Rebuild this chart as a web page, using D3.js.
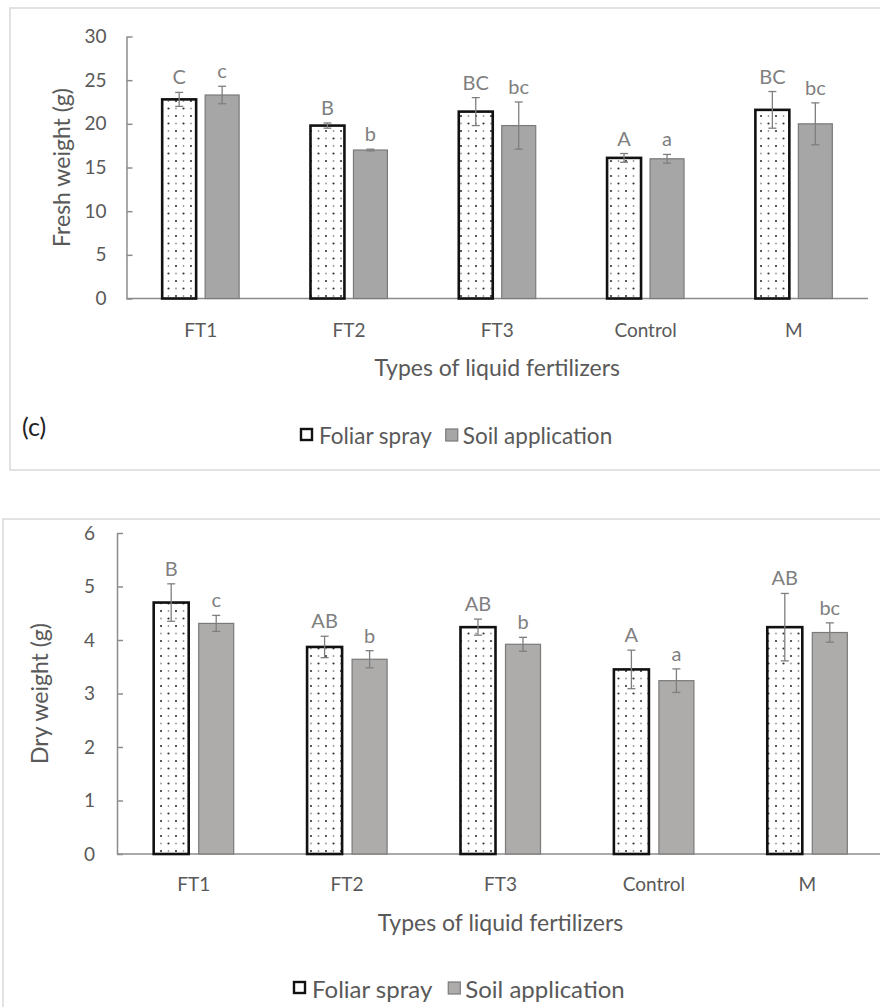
<!DOCTYPE html>
<html>
<head>
<meta charset="utf-8">
<script src="https://cdn.jsdelivr.net/npm/d3@7/dist/d3.min.js"></script>
<style>
  html, body { margin: 0; padding: 0; background: #fff; }
  svg { display: block; }
  text { font-family: Lato, "Open Sans", sans-serif; }
</style>
</head>
<body>
<script>
// ---------- DATA ----------
const categories = ["FT1", "FT2", "FT3", "Control", "M"];
const seriesNames = ["Foliar spray", "Soil application"];

const freshFoliar    = [22.8, 19.8, 21.4, 16.1, 21.6];
const freshFoliarErr = [0.8, 0.3, 1.6, 0.5, 2.1];
const freshSoil      = [23.3, 17.0, 19.8, 16.0, 20.0];
const freshSoilErr   = [1.0, 0.1, 2.7, 0.5, 2.4];
const freshFoliarLetters = ["C", "B", "BC", "A", "BC"];
const freshSoilLetters   = ["c", "b", "bc", "a", "bc"];
const freshTicks = [0, 5, 10, 15, 20, 25, 30];

const dryFoliar    = [4.70, 3.87, 4.24, 3.45, 4.24];
const dryFoliarErr = [0.35, 0.20, 0.15, 0.36, 0.63];
const drySoil      = [4.31, 3.64, 3.92, 3.24, 4.14];
const drySoilErr   = [0.15, 0.16, 0.13, 0.22, 0.18];
const dryFoliarLetters = ["B", "AB", "AB", "A", "AB"];
const drySoilLetters   = ["c", "b", "b", "a", "bc"];
const dryTicks = [0, 1, 2, 3, 4, 5, 6];

const xTitle = "Types of liquid fertilizers";

// ---------- SVG ----------
const W = 880, H = 1007;
const svg = d3.select("body").append("svg").attr("width", W).attr("height", H);
svg.append("rect").attr("width", W).attr("height", H).attr("fill", "#fff");

const defs = svg.append("defs");
const pat = defs.append("pattern").attr("id", "dots")
  .attr("patternUnits", "userSpaceOnUse").attr("width", 15).attr("height", 15);
pat.append("rect").attr("width", 15).attr("height", 15).attr("fill", "#fff");
[[3.5, 3.5, "#333", 1.1], [11, 11, "#333", 1.1], [11, 3.5, "#999", 0.9], [3.5, 11, "#999", 0.9]].forEach(([cx, cy, c, r]) =>
  pat.append("circle").attr("cx", cx).attr("cy", cy).attr("r", r).attr("fill", c));

function drawChart(cfg) {
  const g = svg.append("g");
  // panel border
  g.append("rect").attr("x", cfg.panel[0]).attr("y", cfg.panel[1])
    .attr("width", cfg.panel[2]).attr("height", cfg.panel[3])
    .attr("fill", "none").attr("stroke", "#d9d9d9").attr("stroke-width", 1.5);

  const x = d3.scaleBand().domain(categories).range([cfg.left, cfg.right]);
  const xs = d3.scaleBand().domain(seriesNames).range([0, x.bandwidth()])
    .paddingInner(cfg.pin).paddingOuter(cfg.pout);
  const y = d3.scaleLinear().domain([0, d3.max(cfg.ticks)]).range([cfg.y0, cfg.yTop]);

  const rows = categories.map((c, i) => ([
    { c, s: seriesNames[0], v: cfg.foliar[i], e: cfg.foliarErr[i], L: cfg.foliarL[i] },
    { c, s: seriesNames[1], v: cfg.soil[i], e: cfg.soilErr[i], L: cfg.soilL[i] }
  ])).flat();

  // x axis line
  g.append("line").attr("x1", cfg.left).attr("x2", cfg.right)
    .attr("y1", y(0)).attr("y2", y(0)).attr("stroke", "#8c8c8c").attr("stroke-width", 1.5);

  g.selectAll("rect.bar").data(rows).join("rect").attr("class", "bar")
    .attr("x", d => x(d.c) + xs(d.s))
    .attr("y", d => y(d.v))
    .attr("width", xs.bandwidth())
    .attr("height", d => y(0) - y(d.v))
    .attr("fill", d => d.s === seriesNames[0] ? "url(#dots)" : cfg.soilFill)
    .attr("stroke", d => d.s === seriesNames[0] ? "#111" : "#7a7a7a")
    .attr("stroke-width", d => d.s === seriesNames[0] ? 2.6 : 1.2);

  // error bars
  const eb = g.selectAll("g.err").data(rows).join("g").attr("class", "err")
    .attr("stroke", "#7f7f7f").attr("stroke-width", 1.3);
  const cx = d => x(d.c) + xs(d.s) + xs.bandwidth() / 2;
  eb.append("line").attr("x1", cx).attr("x2", cx)
    .attr("y1", d => y(d.v + d.e)).attr("y2", d => y(d.v - d.e));
  eb.append("line").attr("x1", d => cx(d) - 4).attr("x2", d => cx(d) + 4)
    .attr("y1", d => y(d.v + d.e)).attr("y2", d => y(d.v + d.e));
  eb.append("line").attr("x1", d => cx(d) - 4).attr("x2", d => cx(d) + 4)
    .attr("y1", d => y(d.v - d.e)).attr("y2", d => y(d.v - d.e));

  // letters
  g.selectAll("text.let").data(rows).join("text").attr("class", "let")
    .attr("x", cx).attr("y", d => y(d.v + d.e) - 16)
    .attr("text-anchor", "middle").attr("dominant-baseline", "central")
    .attr("font-size", 20).attr("fill", "#7f7f7f").text(d => d.L);

  // y axis
  const ya = g.append("g").attr("transform", `translate(${cfg.left},0)`)
    .call(d3.axisLeft(y).tickValues(cfg.ticks).tickFormat(d3.format("d"))
      .tickSizeInner(-6).tickSizeOuter(0).tickPadding(cfg.tickPad));
  ya.select(".domain").attr("stroke", "#8c8c8c").attr("stroke-width", 1.5);
  ya.selectAll(".tick line").attr("stroke", "#8c8c8c").attr("stroke-width", 1.5);
  ya.selectAll(".tick text").attr("font-size", 19).attr("fill", "#595959")
    .attr("font-family", "Lato, sans-serif");

  // x axis labels
  const xa = g.append("g").attr("transform", `translate(0,${y(0)})`)
    .call(d3.axisBottom(x).tickSize(0).tickPadding(0));
  xa.select(".domain").remove();
  xa.selectAll(".tick text").attr("y", cfg.xLabOff).attr("dy", "0.35em")
    .attr("font-size", 19).attr("fill", "#595959").attr("font-family", "Lato, sans-serif");

  // axis titles
  g.append("text").attr("x", (cfg.left + cfg.right) / 2).attr("y", cfg.xTitleY)
    .attr("text-anchor", "middle").attr("dominant-baseline", "central")
    .attr("font-size", 23).attr("fill", "#595959").text(xTitle);
  g.append("text").attr("transform", `translate(${cfg.yTitleX},${(cfg.y0 + cfg.yTop) / 2}) rotate(-90)`)
    .attr("text-anchor", "middle").attr("dominant-baseline", "central")
    .attr("font-size", 23).attr("fill", "#595959").text(cfg.yTitle);

  // legend
  const lg = g.append("g").attr("transform", `translate(${cfg.legX},${cfg.legY})`);
  lg.append("rect").attr("x", 1).attr("y", -6).attr("width", 11).attr("height", 11)
    .attr("fill", "#fff").attr("stroke", "#111").attr("stroke-width", 2.4);
  const t1 = lg.append("text").attr("x", 19).attr("y", 0).attr("dominant-baseline", "central")
    .attr("font-size", cfg.legFont).attr("fill", "#595959").text(seriesNames[0]);
  const w1 = t1.node().getComputedTextLength();
  const x2 = 19 + w1 + cfg.legGap;
  lg.append("rect").attr("x", x2).attr("y", -6).attr("width", 12).attr("height", 12)
    .attr("fill", cfg.soilFill).attr("stroke", "#7a7a7a").attr("stroke-width", 1.2);
  lg.append("text").attr("x", x2 + 17).attr("y", 0).attr("dominant-baseline", "central")
    .attr("font-size", cfg.legFont).attr("fill", "#595959").text(seriesNames[1]);

  if (cfg.tag) {
    g.append("text").attr("x", cfg.tag[0]).attr("y", cfg.tag[1]).attr("dominant-baseline", "central")
      .attr("font-size", 25).attr("fill", "#222").text(cfg.tag[2]);
  }
}

drawChart({
  panel: [10, 8, 880, 462],
  left: 126.5, right: 868, y0: 298.5, yTop: 36.5,
  pin: 0.21, pout: 0.83,
  ticks: freshTicks, tickPad: 20,
  foliar: freshFoliar, foliarErr: freshFoliarErr, foliarL: freshFoliarLetters,
  soil: freshSoil, soilErr: freshSoilErr, soilL: freshSoilLetters,
  soilFill: "#a6a6a6",
  xLabOff: 32, xTitleY: 367, yTitleX: 61, yTitle: "Fresh weight (g)",
  legX: 300, legY: 435, legFont: 22.5, legGap: 14,
  tag: [22, 426, "(c)"]
});

drawChart({
  panel: [3, 519, 890, 520],
  left: 117, right: 884, y0: 854, yTop: 533,
  pin: 0.222, pout: 0.815,
  ticks: dryTicks, tickPad: 22,
  foliar: dryFoliar, foliarErr: dryFoliarErr, foliarL: dryFoliarLetters,
  soil: drySoil, soilErr: drySoilErr, soilL: drySoilLetters,
  soilFill: "#aeabab",
  xLabOff: 30, xTitleY: 922, yTitleX: 39, yTitle: "Dry weight (g)",
  legX: 293, legY: 988, legFont: 24, legGap: 16,
  tag: null
});
</script>
</body>
</html>
